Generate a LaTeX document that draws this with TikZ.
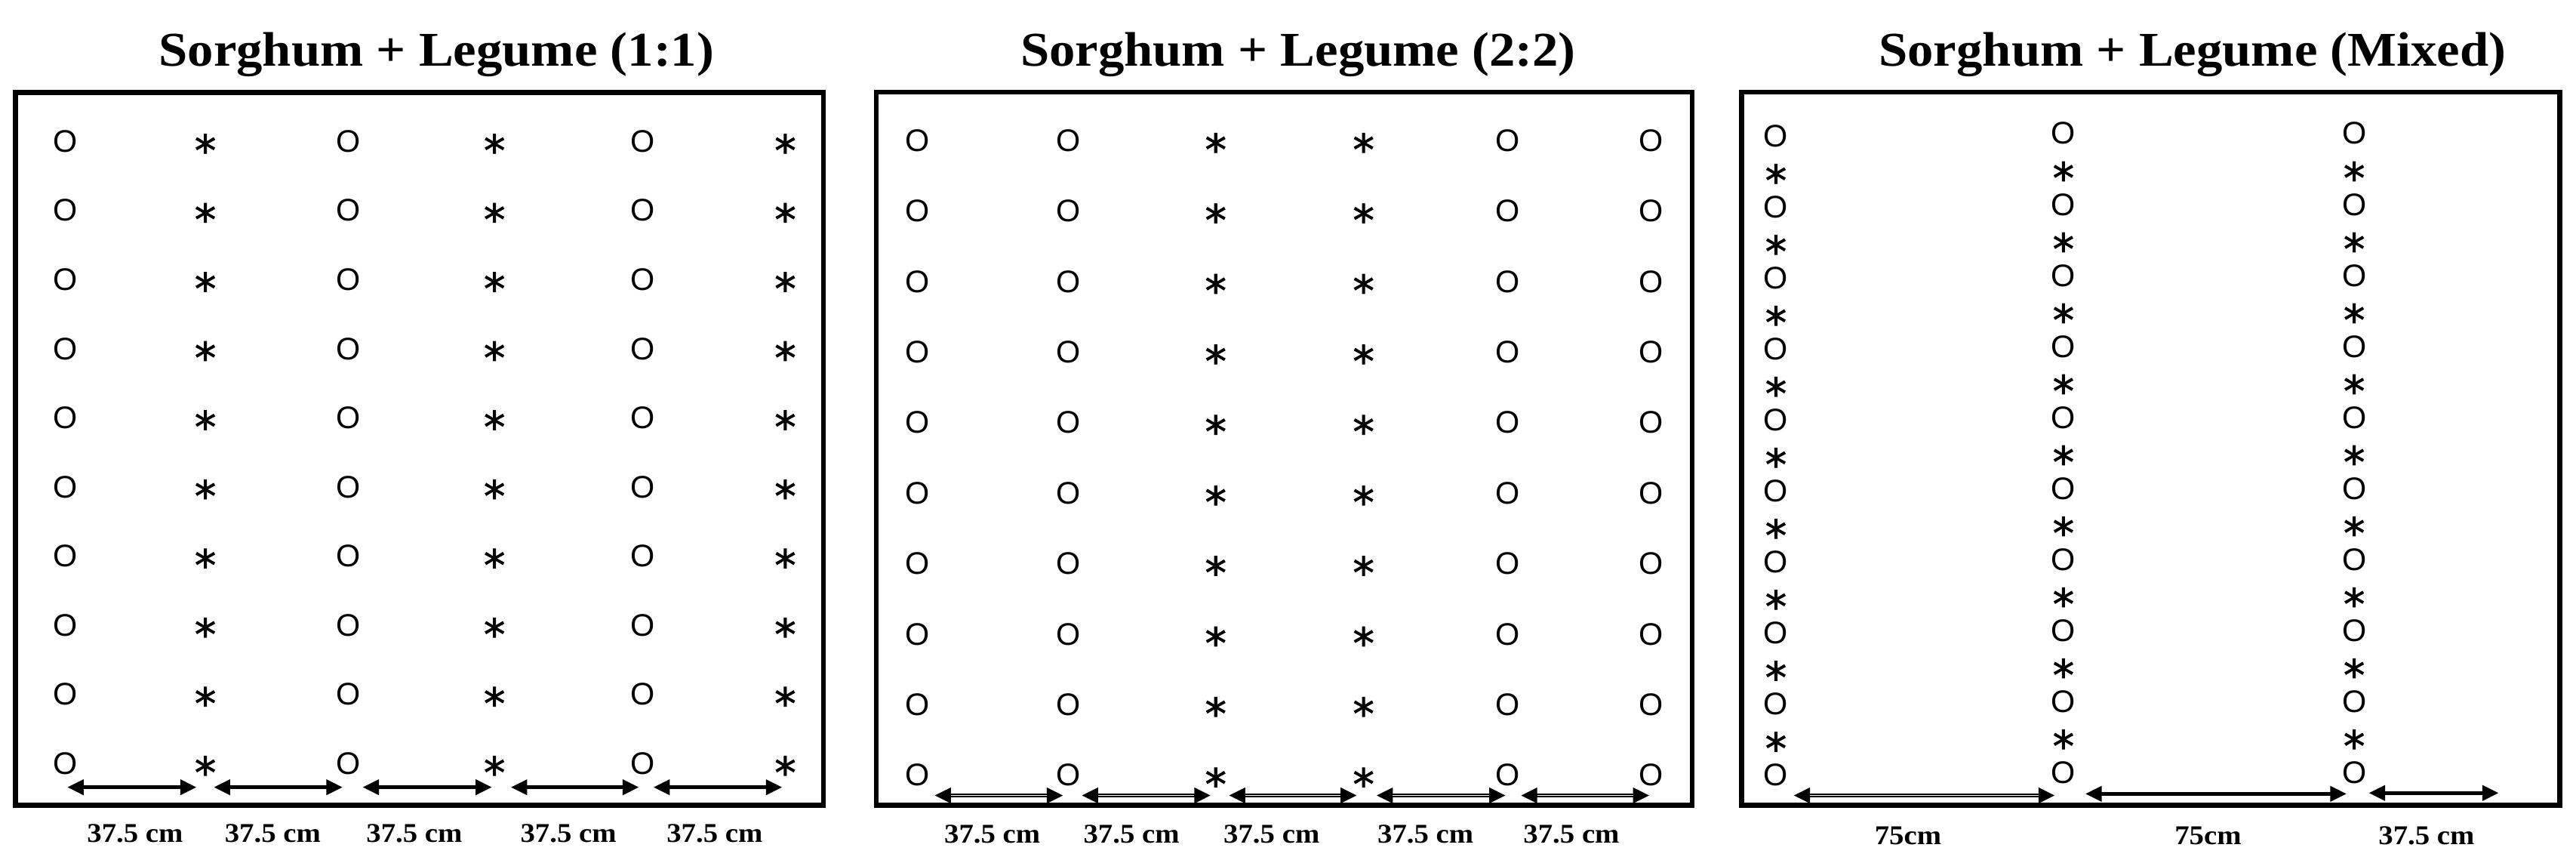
\documentclass[tikz,border=0pt]{standalone}
\usepackage{fontspec}
\setmainfont{Liberation Serif}
\newfontfamily\symfont{Liberation Sans}
\newfontfamily\astfont[FakeBold=1.5]{DejaVu Sans}
\usetikzlibrary{arrows.meta}
\newcommand{\astglyph}{\raisebox{-0.38em}[0.38em][0pt]{*}}
\newcommand{\wlabel}[1]{\scalebox{1.08}[1]{#1}}
\tikzset{
  frame/.style={line width=3pt},
  osym/.style={inner sep=0pt, font=\symfont\fontsize{19}{19}\selectfont},
  asym/.style={inner sep=0pt, font=\astfont\fontsize{26}{26}\selectfont},
  ttl/.style={inner sep=0pt, anchor=base, font=\bfseries\fontsize{29.5}{30}\selectfont},
  lbl/.style={inner sep=0pt, font=\bfseries\fontsize{16.5}{16.5}\selectfont},
  dim/.style={line width=2.4pt, {Triangle[length=10pt,width=9pt]}-{Triangle[length=10pt,width=9pt]}},
  hollow/.style={white, line width=0.8pt, shorten <=10pt, shorten >=10pt},
}
\begin{document}
\begin{tikzpicture}[x=1pt,y=-1pt]
\useasboundingbox (0,0) rectangle (1568,523);
% titles
\node[ttl] (t1) at (265.7,40.2) {\scalebox{1.07}[1]{Sorghum + Legume (1:1)}};
\node[ttl] (t2) at (790.2,40.2) {\scalebox{1.07}[1]{Sorghum + Legume (2:2)}};
\node[ttl] (t3) at (1334.6,40.2) {\scalebox{1.07}[1]{Sorghum + Legume (Mixed)}};
% frames
\draw[frame] (9.5,56.3) rectangle (501.3,490);
\draw[frame] (533.3,56) rectangle (1030,490);
\draw[frame] (1060,56) rectangle (1558,490);
% panel 1 (1:1)
\foreach \x [count=\i] in {40,212,391}{
  \foreach \k in {0,...,9}{
    \node[osym] (pa-o\i-\k) at ({\x},{86+42.06*\k}) {O};
  }
}
\foreach \x [count=\i] in {125,301,478}{
  \foreach \k in {0,...,9}{
    \node[asym] (pa-a\i-\k) at ({\x},{86+42.06*\k}) {\astglyph};
  }
}
% panel 2 (2:2)
\foreach \x [count=\i] in {558.5,650.5,917.5,1005}{
  \foreach \k in {0,...,9}{
    \node[osym] (pb-o\i-\k) at ({\x},{85.5+42.9*\k}) {O};
  }
}
\foreach \x [count=\i] in {740,830}{
  \foreach \k in {0,...,9}{
    \node[asym] (pb-a\i-\k) at ({\x},{85.5+42.9*\k}) {\astglyph};
  }
}
% panel 3 (mixed)
\foreach \x/\y [count=\i] in {1081/82.7,1256/81.2,1433/81.2}{
  \foreach \k in {0,...,9}{
    \node[osym] (pc-o\i-\k) at ({\x},{\y+43.2*\k}) {O};
  }
  \foreach \k in {0,...,8}{
    \node[asym] (pc-a\i-\k) at ({\x},{\y+21.6+43.2*\k}) {\astglyph};
  }
}
% dimension arrows panel 1
\foreach \a/\b/\c [count=\i] in {40.9/119.7/82.2,130.1/208.6/166,220.7/299.5/252.2,310.9/389/346,397.7/476.2/435}{
  \coordinate (da\i s) at (\a,479);
  \coordinate (da\i e) at (\b,479);
  \draw[dim] (da\i s) -- (da\i e);
  \node[lbl] (la\i) at (\c,507) {\wlabel{37.5 cm}};
}
% dimension arrows panel 2
\foreach \a/\b/\c [count=\i] in {568.8/647.2/604,658.4/737/688.7,748/826/774,837.8/916.5/867.7,925.7/1004/956.5}{
  \coordinate (db\i s) at (\a,484);
  \coordinate (db\i e) at (\b,484);
  \draw[dim] (db\i s) -- (db\i e);
  \draw[hollow] (db\i s) -- (db\i e);
  \node[lbl] (lb\i) at (\c,507.6) {\wlabel{37.5 cm}};
}
% dimension arrows panel 3
\coordinate (dc1s) at (1091.7,484);
\coordinate (dc1e) at (1250.8,484);
\coordinate (dc2s) at (1269.3,483);
\coordinate (dc2e) at (1428.4,483);
\coordinate (dc3s) at (1441.8,482.5);
\coordinate (dc3e) at (1521,482.5);
\draw[dim] (dc1s) -- (dc1e);
\draw[hollow] (dc1s) -- (dc1e);
\draw[dim] (dc2s) -- (dc2e);
\draw[dim] (dc3s) -- (dc3e);
\node[lbl] (lc1) at (1161.4,508.5) {\wlabel{75cm}};
\node[lbl] (lc2) at (1344,508.5) {\wlabel{75cm}};
\node[lbl] (lc3) at (1477,508.5) {\wlabel{37.5 cm}};
\end{tikzpicture}
\end{document}
